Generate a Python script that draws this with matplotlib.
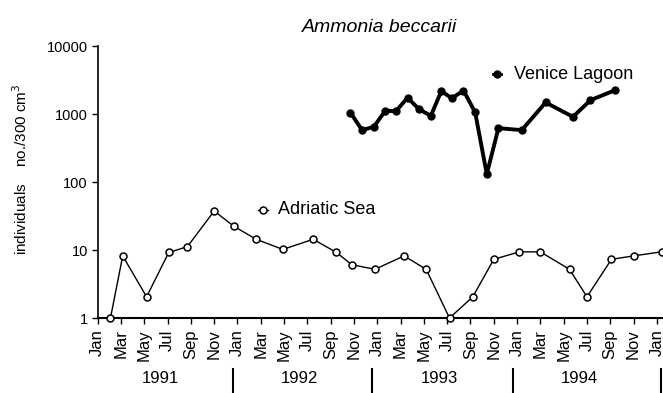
import matplotlib.pyplot as plt

plt.rcParams['font.family'] = ['Liberation Sans', 'DejaVu Sans']

# months counted from Jan 1991 (0 = Jan 1991)
adriatic_month = [1.1, 2.15, 4.2, 6.1, 7.7, 10.0, 11.7, 13.6, 15.9, 18.5, 20.5, 21.8,
                  23.8, 26.3, 28.2, 30.2, 32.2, 34.0, 36.2, 38.0, 40.5, 42.0, 44.1, 46.0, 48.4]
adriatic_count = [1, 8.2, 2.05, 9.2, 11.2, 37.5, 22.3, 14.4, 10.2, 14.4, 9.2, 6.1,
                  5.2, 8.2, 5.2, 1, 2.05, 7.3, 9.4, 9.4, 5.2, 2.05, 7.3, 8.2, 9.4]

venice_month = [21.7, 22.7, 23.7, 24.7, 25.6, 26.6, 27.6, 28.6, 29.5, 30.4, 31.4, 32.4,
                33.4, 34.4, 36.4, 38.45, 40.8, 42.3, 44.4]
venice_count = [1045, 580, 650, 1120, 1100, 1740, 1170, 945, 2180, 1700, 2220, 1060,
                131, 620, 580, 1480, 910, 1600, 2240]

month_names = ['Jan', 'Mar', 'May', 'Jul', 'Sep', 'Nov']
years = ['1991', '1992', '1993', '1994']

fig = plt.figure(figsize=(6.63, 3.93), dpi=100)
ax = fig.add_axes([0.1473, 0.1908, 0.8505, 0.692])

venice_style = dict(color='black', lw=2.8, marker='o', ms=5, mfc='black', mec='black')
adriatic_style = dict(color='black', lw=1.0, marker='o', ms=5, mfc='white', mec='black',
                      mew=1.1)

ax.plot(venice_month, venice_count, zorder=3, **venice_style)
ax.plot(adriatic_month, adriatic_count, zorder=3, clip_on=False, **adriatic_style)

ax.set_yscale('log')
ax.set_ylim(1, 10000)
ax.set_xlim(0, 48.4)
ax.set_yticks([1, 10, 100, 1000, 10000])
ax.set_yticklabels(['1', '10', '100', '1000', '10000'])
ax.minorticks_off()

ticks = list(range(0, 49, 2))
ax.set_xticks(ticks)
ax.set_xticklabels([month_names[(t % 12) // 2] for t in ticks], rotation=90)
ax.tick_params(axis='x', direction='out', length=4, width=1, labelsize=12, pad=4)
ax.tick_params(axis='y', direction='out', length=4, width=1, labelsize=10.5, pad=3)

for side in ['top', 'right']:
    ax.spines[side].set_visible(False)
ax.spines['left'].set_linewidth(1.2)
ax.spines['bottom'].set_linewidth(1.5)

ax.set_title('Ammonia beccarii', fontstyle='italic', fontsize=14, pad=10)
ax.set_ylabel('individuals    no./300 cm$^3$', fontsize=11)
ax.yaxis.set_label_coords(-0.12, 0.548)

# series labels, each with a short sample of its line
ax.plot([33.95, 34.3, 34.65], [3880] * 3, markevery=[1],
        **dict(venice_style, lw=2.0))
ax.text(35.75, 3880, 'Venice Lagoon', va='center', fontsize=13)
ax.plot([13.8, 14.2, 14.6], [39] * 3, markevery=[1], **adriatic_style)
ax.text(15.5, 39, 'Adriatic Sea', va='center', fontsize=13)

# year labels and separators under the month labels
tr = ax.get_xaxis_transform()
for i, yr in enumerate(years):
    ax.text(12 * i + 5.35, -0.224, yr, transform=tr, ha='center', va='center', fontsize=12)
for xs in [11.6, 23.55, 35.65, 48.35]:
    ax.plot([xs, xs], [-0.1875, -0.28], transform=tr, color='black', lw=1.5,
            clip_on=False)

plt.savefig('out.png', dpi=100)
